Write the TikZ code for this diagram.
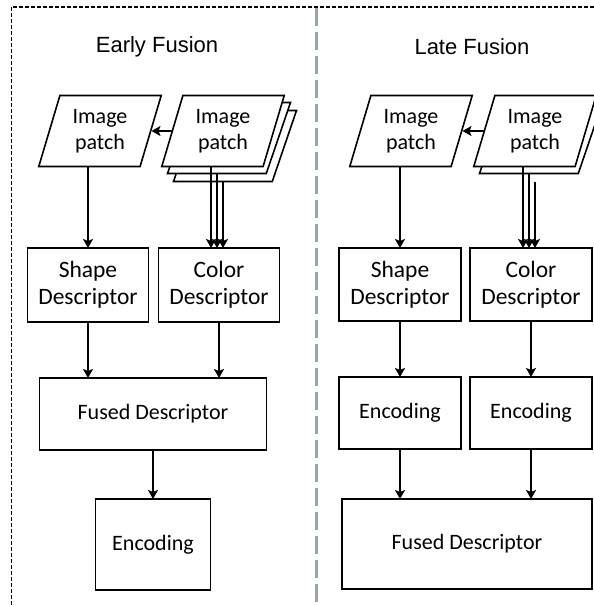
\documentclass[tikz,border=0pt]{standalone}
\usepackage{fontspec}
\setmainfont{Carlito}
\newfontfamily\headfont{Liberation Sans}
\usetikzlibrary{positioning,shapes.geometric,arrows.meta,calc}

\definecolor{splitgray}{HTML}{9AA6A6}

\tikzset{
  box/.style={draw, line width=1.6pt, fill=white, align=center, inner sep=0pt,
    outer sep=0pt, font=\fontsize{22}{26}\selectfont},
  desc/.style={box, font=\fontsize{23.5}{27}\selectfont},
  patch/.style={draw, line width=1.6pt, fill=white, trapezium,
    trapezium left angle=72, trapezium right angle=108, trapezium stretches=true,
    minimum width=123pt, minimum height=71pt, inner sep=2pt, align=center,
    font=\fontsize{22}{26}\selectfont},
  flow/.style={-{Stealth[length=9pt,width=10pt,inset=2pt]}, line width=2pt},
  head/.style={font=\headfont\fontsize{22}{26}\selectfont},
}

\begin{document}
\begin{tikzpicture}[x=1pt, y=-1pt]
  \useasboundingbox (0,0) rectangle (594,605);

  % outer frame and split line
  \draw[line width=1.2pt, dash pattern=on 4pt off 2pt] (11.5,605) -- (11.5,7) -- (594,7);
  \draw[line width=3pt, splitgray, dash pattern=on 18pt off 6pt] (316,8) -- (316,605);

  % early fusion
  \node[head] (ef) at (157,47) {Early Fusion};
  \node[patch] (ip1) at (100,131) {Image\\patch};
  \node[patch] (ip2c) at (235,146) {};
  \node[patch] (ip2b) at (229,138) {};
  \node[patch] (ip2) at (223,131) {Image\\patch};

  \node[desc, minimum width=121pt, minimum height=74pt] (sd) at (88,285) {Shape\\Descriptor};
  \node[desc, minimum width=121pt, minimum height=74pt, right=10pt of sd] (cd) {Color\\Descriptor};
  \node[box, minimum width=227pt, minimum height=72pt] (fd) at (153,414) {Fused Descriptor};
  \node[box, minimum width=115pt, minimum height=91pt, below=49pt of fd] (enc) {Encoding};

  \draw[flow] (ip2.west) -- (ip1.east);
  \draw[flow] (sd.north |- ip1.south) -- (sd.north);
  \foreach \n in {ip2,ip2b,ip2c}
    \draw[flow] ($(\n.south)+(-12,0)$) coordinate (t) -- (t |- cd.north);
  \draw[flow] (sd) -- (sd |- fd.north);
  \draw[flow] (cd) -- (cd |- fd.north);
  \draw[flow] (fd) -- (enc);

  % late fusion
  \node[head] (lf) at (472,47) {Late Fusion};
  \node[patch] (ip3) at (411,131) {Image\\patch};
  \node[patch] (ip4b) at (541,138) {};
  \node[patch] (ip4) at (535,131) {Image\\patch};
  \coordinate (p3) at (535,182);

  \node[desc, minimum width=122pt, minimum height=73pt] (sd2) at (400,284.5) {Shape\\Descriptor};
  \node[desc, minimum width=122pt, minimum height=73pt, right=9pt of sd2] (cd2) {Color\\Descriptor};
  \node[box, minimum width=122pt, minimum height=72pt, below=56pt of sd2] (enc2) {Encoding};
  \node[box, minimum width=122pt, minimum height=72pt, below=56pt of cd2] (enc3) {Encoding};
  \node[box, minimum width=250pt, minimum height=90pt] (fd2) at (467,544) {Fused Descriptor};

  \draw[flow] (ip4.west) -- (ip3.east);
  \draw[flow] (sd2.north |- ip3.south) -- (sd2.north);
  \foreach \n in {ip4,ip4b}
    \draw[flow] ($(\n.south)+(-12,0)$) coordinate (t) -- (t |- cd2.north);
  \draw[flow] (p3) -- (p3 |- cd2.north);
  \draw[flow] (sd2) -- (enc2);
  \draw[flow] (cd2) -- (enc3);
  \draw[flow] (enc2) -- (enc2 |- fd2.north);
  \draw[flow] (enc3) -- (enc3 |- fd2.north);
\end{tikzpicture}
\end{document}
